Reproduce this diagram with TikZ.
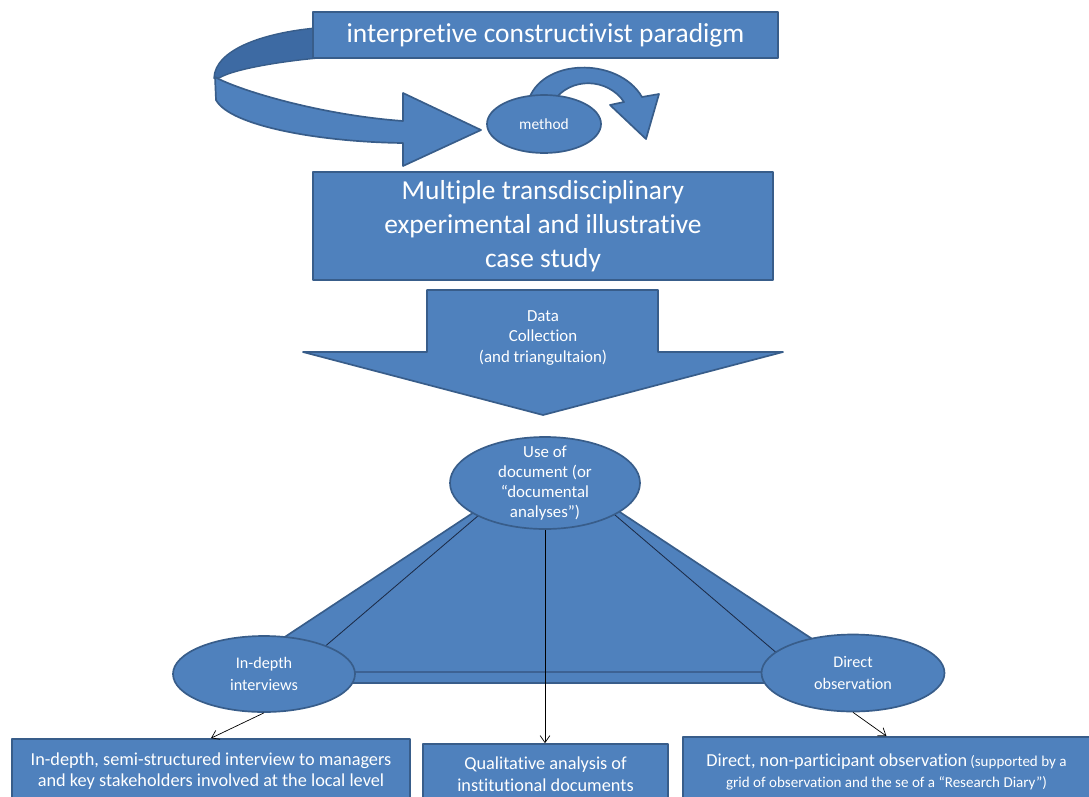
\documentclass[tikz,border=0pt]{standalone}
\usepackage{fontspec}
\setmainfont{Carlito}[Ligatures={NoCommon}]
\usetikzlibrary{calc,shapes.geometric,arrows.meta}

\newdimen\upx \upx=0.025cm

\definecolor{boxblue}{HTML}{4F81BD}
\definecolor{boxedge}{HTML}{385D8A}
\definecolor{backblue}{HTML}{3D6AA3}
\definecolor{linenavy}{HTML}{1C2B47}

\tikzset{
  bluefill/.style={fill=boxblue, draw=boxedge, line width=1.2pt, line join=round},
  blockbox/.style={bluefill, rectangle, inner sep=0pt, text=white, align=center},
  oval/.style={bluefill, ellipse, inner sep=0pt},
  ovaltext/.style={text=white, align=center},
  link/.style={draw=black, line width=0.5pt, -{Straight Barb[length=5pt,width=7pt]}},
}

\begin{document}
\begin{tikzpicture}[x=0.025cm, y=-0.025cm]
\useasboundingbox (0,0) rectangle (1089,796);

% back face of the curled arrow, behind the paradigm box
\fill[backblue, draw=boxedge, line width=1pt]
  (316,28) .. controls (262,33) and (215,50) .. (214,78)
  -- (219,78) .. controls (236,68) and (290,60) .. (330,57) -- cycle;

% paradigm box
\node[blockbox, minimum width=465\upx, minimum height=46\upx,
      font=\fontsize{19.5}{23}\selectfont] (para) at (545.5,35)
  {interpretive constructivist paradigm};

% front face of the curled arrow, ending in its head
\path[bluefill]
  (215,77) .. controls (238,90) and (320,115) .. (403,121)
  -- (403,93) -- (481,130) -- (403,166) -- (403,143)
  .. controls (320,142) and (230,126) .. (216,100) -- cycle;

% small arc arrow leaving the method oval
\path[bluefill]
  (528,102) .. controls (540,58) and (618,56) .. (642,97)
  -- (659,94) -- (646,139) -- (610,105) -- (624,102)
  .. controls (608,78) and (570,76) .. (553,102) -- cycle;

\node[oval, minimum width=114\upx, minimum height=58\upx,
      label={[ovaltext, font=\fontsize{11}{13}\selectfont]center:method}]
  (method) at (544,124) {};

% case study box
\node[blockbox, minimum width=460\upx, minimum height=108\upx,
      font=\fontsize{19.5}{24}\selectfont] (case) at (543,226)
  {Multiple transdisciplinary\\experimental and illustrative\\case study};

% block arrow for data collection
\path[bluefill]
  (427,290) -- (658,290) -- (658,352) -- (783,352) -- (543,415)
  -- (303,352) -- (427,352) -- cycle;
\node[text=white, align=center, font=\fontsize{12}{14.3}\selectfont]
  (data) at (543,338) {Data\\Collection\\(and triangultaion)};

% triangle frame of the three sources
\path[bluefill] (215,683) -- (879,683) -- (547,464) -- cycle;
\draw[linenavy, line width=0.6pt, line join=round]
  (295,672) -- (799,672) -- (547,457) -- cycle;

\node[oval, minimum width=190\upx, minimum height=92\upx,
      label={[ovaltext, font=\fontsize{12}{14.2}\selectfont]center:{Use of\\document (or\\“documental\\analyses”)}}]
  (doc) at (545,483) {};
\node[oval, minimum width=182\upx, minimum height=76\upx,
      label={[ovaltext, font=\fontsize{11.5}{15.6}\selectfont]center:{In-depth\\interviews}}]
  (iv) at (264,674) {};
\node[oval, minimum width=183\upx, minimum height=77\upx,
      label={[ovaltext, font=\fontsize{11.5}{15.6}\selectfont]center:{Direct\\observation}}]
  (obs) at (853,673) {};

% result boxes along the bottom
\node[blockbox, minimum width=398\upx, minimum height=64\upx,
      font=\fontsize{13}{14.6}\selectfont] (ibox) at (211,771)
  {In-depth, semi-structured interview to managers\\
   and key stakeholders involved at the local level};
\node[blockbox, minimum width=245\upx, minimum height=60\upx,
      font=\fontsize{13}{15.4}\selectfont] (mbox) at (545.5,774)
  {Qualitative analysis of\\institutional documents};
\node[blockbox, minimum width=407\upx, minimum height=70\upx,
      font=\fontsize{13}{14.6}\selectfont] (rbox) at (886.5,772)
  {Direct, non-participant observation\,{\fontsize{10.7}{12}\selectfont(supported by a}\\
   {\fontsize{10.7}{12}\selectfont grid of observation and the se of a “Research Diary”)}};

% connectors
\draw[link] (iv.south) -- (ibox.north);
\draw[link] (doc.south) -- (doc.south |- mbox.north);
\draw[link] (obs.south) -- (rbox.north);
\end{tikzpicture}
\end{document}
